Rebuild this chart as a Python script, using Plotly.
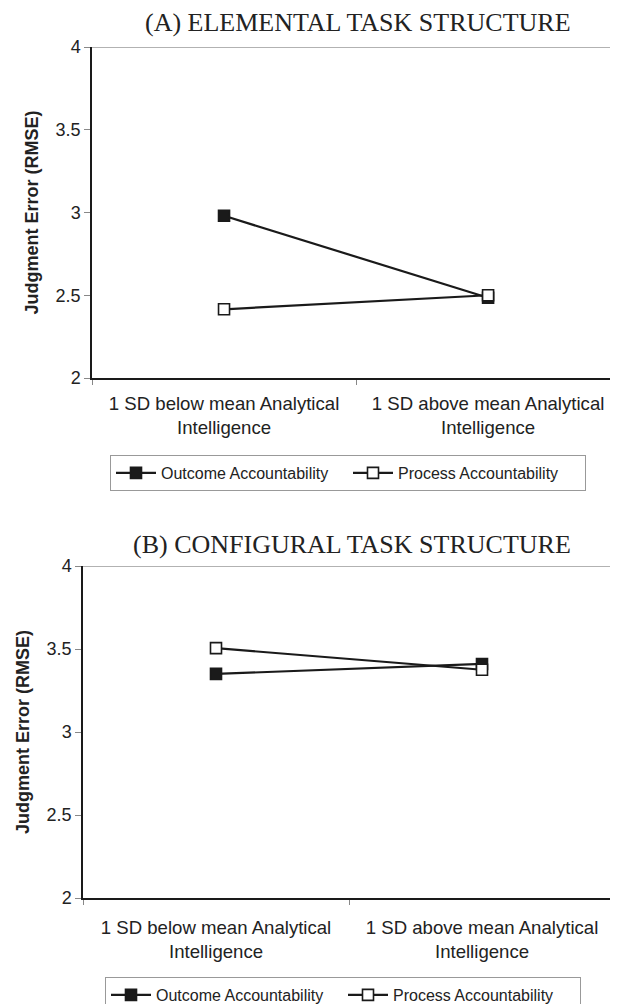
import plotly.graph_objects as go

categories = ["1 SD below mean Analytical<br>Intelligence", "1 SD above mean Analytical<br>Intelligence"]
cat_pos = [0, 1]
series_names = ["Outcome Accountability", "Process Accountability"]
a_outcome = [2.98, 2.485]
a_process = [2.415, 2.50]
b_outcome = [3.35, 3.41]
b_process = [3.505, 3.375]
y_ticks = [2, 2.5, 3, 3.5, 4]
y_ticktext = ["2", "2.5", "3", "3.5", "4"]
titles = ["(A) ELEMENTAL TASK STRUCTURE", "(B) CONFIGURAL TASK STRUCTURE"]
y_title = "Judgment Error (RMSE)"

W, H = 618, 1004
OFF = 8  # page body margin in the browser
def px_x(v): return (v - OFF) / W
def px_y(v): return (H - (v - OFF)) / H

fig = go.Figure()

def add_series(xa, ya, vals, name, filled, legend):
    fig.add_trace(go.Scatter(
        x=cat_pos, y=vals, name=name, xaxis=xa, yaxis=ya, legend=legend,
        mode="lines+markers",
        line=dict(color="#1a1a1a", width=2.2),
        marker=dict(symbol="square", size=11,
                    color="#1a1a1a" if filled else "white",
                    line=dict(color="#1a1a1a", width=1.6)),
    ))

add_series("x", "y", a_outcome, series_names[0], True, "legend")
add_series("x", "y", a_process, series_names[1], False, "legend")
add_series("x2", "y2", b_outcome, series_names[0], True, "legend2")
add_series("x2", "y2", b_process, series_names[1], False, "legend2")

tickfont = dict(family="Liberation Sans, Arial", size=18, color="#222")
catfont = dict(family="Liberation Sans, Arial", size=18.6, color="#222")

def xaxis(domain, rng, anchor, standoff):
    return dict(domain=domain, range=rng, anchor=anchor, tickmode="array",
                tickvals=cat_pos, ticktext=categories, ticks="", showgrid=False,
                zeroline=False, showline=True, linecolor="#1a1a1a", linewidth=1.5,
                tickfont=catfont, ticklabelstandoff=standoff, automargin=False,
                minor=dict(tickmode="array", tickvals=[-0.5, 0.5], ticks="outside",
                           ticklen=5, tickcolor="#888", showgrid=False))

def yaxis(domain, anchor):
    return dict(domain=domain, range=[2, 4], anchor=anchor, tickmode="array",
                tickvals=y_ticks, ticktext=y_ticktext, ticks="outside", ticklen=6,
                tickcolor="#888", showgrid=False, zeroline=False, showline=True,
                linecolor="#1a1a1a", linewidth=1.5, tickfont=tickfont, automargin=False,
                title=dict(text="<b>" + y_title + "</b>",
                           font=dict(family="Liberation Sans, Arial", size=18, color="#222"),
                           standoff=12))

legend_common = dict(orientation="h", xanchor="center", yanchor="top",
                     xref="container", yref="container",
                     bordercolor="#999", borderwidth=1, bgcolor="white",
                     font=dict(family="Liberation Sans, Arial", size=16, color="#222"),
                     itemwidth=40, entrywidth=182, tracegroupgap=0)

fig.update_layout(
    width=W, height=H, plot_bgcolor="white", paper_bgcolor="white",
    margin=dict(l=0, r=0, t=0, b=0, autoexpand=False),
    xaxis=xaxis([px_x(92), px_x(618)], [-0.5, 1.492], "y", 8),
    yaxis=yaxis([px_y(378), px_y(47)], "x"),
    xaxis2=xaxis([px_x(83), px_x(615)], [-0.5, 1.5], "y2", 12),
    yaxis2=yaxis([px_y(898), px_y(566)], "x2"),
    legend=dict(legend_common, x=px_x(348), y=px_y(455)),
    legend2=dict(legend_common, x=px_x(343), y=px_y(977)),
    showlegend=True,
)

fig.add_shape(type="line", xref="x domain", yref="y", x0=0, x1=1, y0=4, y1=4,
              line=dict(color="#999", width=1.5))
fig.add_shape(type="line", xref="x2 domain", yref="y2", x0=0, x1=1, y0=4, y1=4,
              line=dict(color="#999", width=1.5))
fig.add_shape(type="line", xref="x2 domain", yref="y2", x0=1, x1=1, y0=2, y1=4,
              line=dict(color="#999", width=1.5))

title_font = dict(family="Liberation Serif, Times New Roman", size=26, color="#222")
fig.add_annotation(text=titles[0], xref="paper", yref="paper", x=px_x(358), y=px_y(23),
                   showarrow=False, font=title_font, xanchor="center", yanchor="middle")
fig.add_annotation(text=titles[1], xref="paper", yref="paper", x=px_x(352), y=px_y(544),
                   showarrow=False, font=title_font, xanchor="center", yanchor="middle")

fig.write_html("out.html")
